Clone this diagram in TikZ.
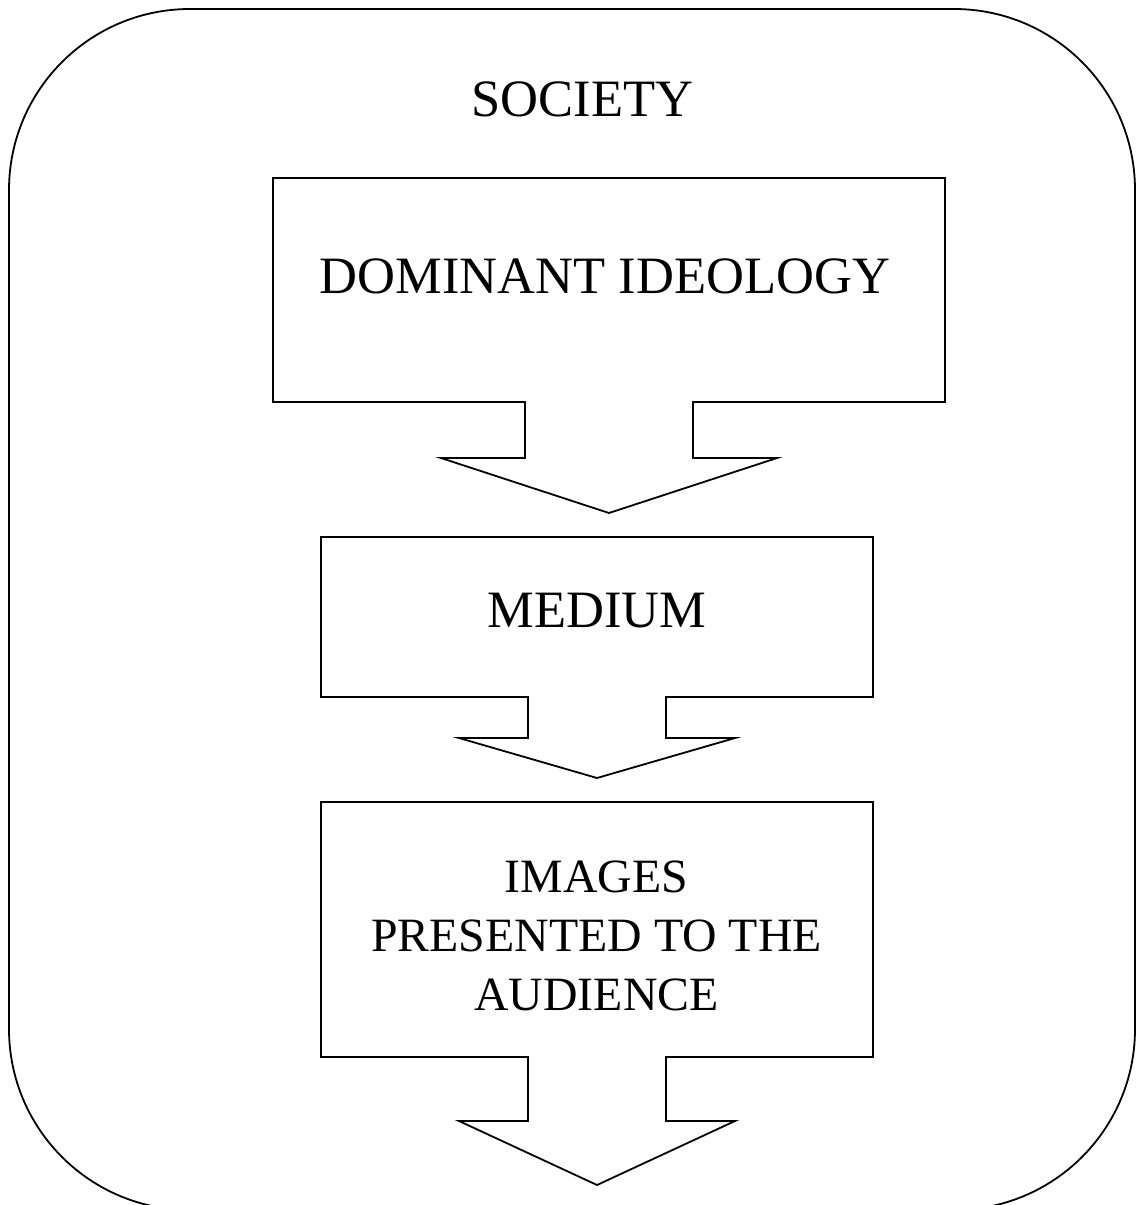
\documentclass[tikz,border=0pt]{standalone}
\usepackage{fontspec}
\setmainfont{Liberation Serif}
\begin{document}
\begin{tikzpicture}[x=1pt,y=-1pt,
  outline/.style={draw=black,line width=1.8pt,line join=miter},
  lbl/.style={inner sep=0pt,align=center,font=\fontsize{52.5}{56}\selectfont},
  lblsmall/.style={inner sep=0pt,align=center,font=\fontsize{47.8}{59}\selectfont}]
\useasboundingbox (0,0) rectangle (1136,1205);
% society frame
\draw[outline,rounded corners=181pt] (9,9) rectangle (1135,1210);
\node[lbl] (society) at (582.5,99) {SOCIETY};
% box 1
\draw[outline] (273,178) -- (945,178) -- (945,402) -- (693,402) -- (693,458) -- (777,458)
  -- (609,513) -- (441,458) -- (525,458) -- (525,402) -- (273,402) -- cycle;
\node[lbl] (ideology) at (605,276) {DOMINANT IDEOLOGY};
% box 2
\draw[outline] (321,537) -- (873,537) -- (873,697) -- (666,697) -- (666,738) -- (735,738)
  -- (597,778) -- (459,738) -- (528,738) -- (528,697) -- (321,697) -- cycle;
\node[lbl] (medium) at (597,611) {MEDIUM};
% box 3
\draw[outline] (321,802) -- (873,802) -- (873,1057) -- (666,1057) -- (666,1121) -- (735,1121)
  -- (597,1185) -- (459,1121) -- (528,1121) -- (528,1057) -- (321,1057) -- cycle;
\node[lblsmall] (images) at (596.5,936) {IMAGES\\PRESENTED TO THE\\AUDIENCE};
\end{tikzpicture}
\end{document}
